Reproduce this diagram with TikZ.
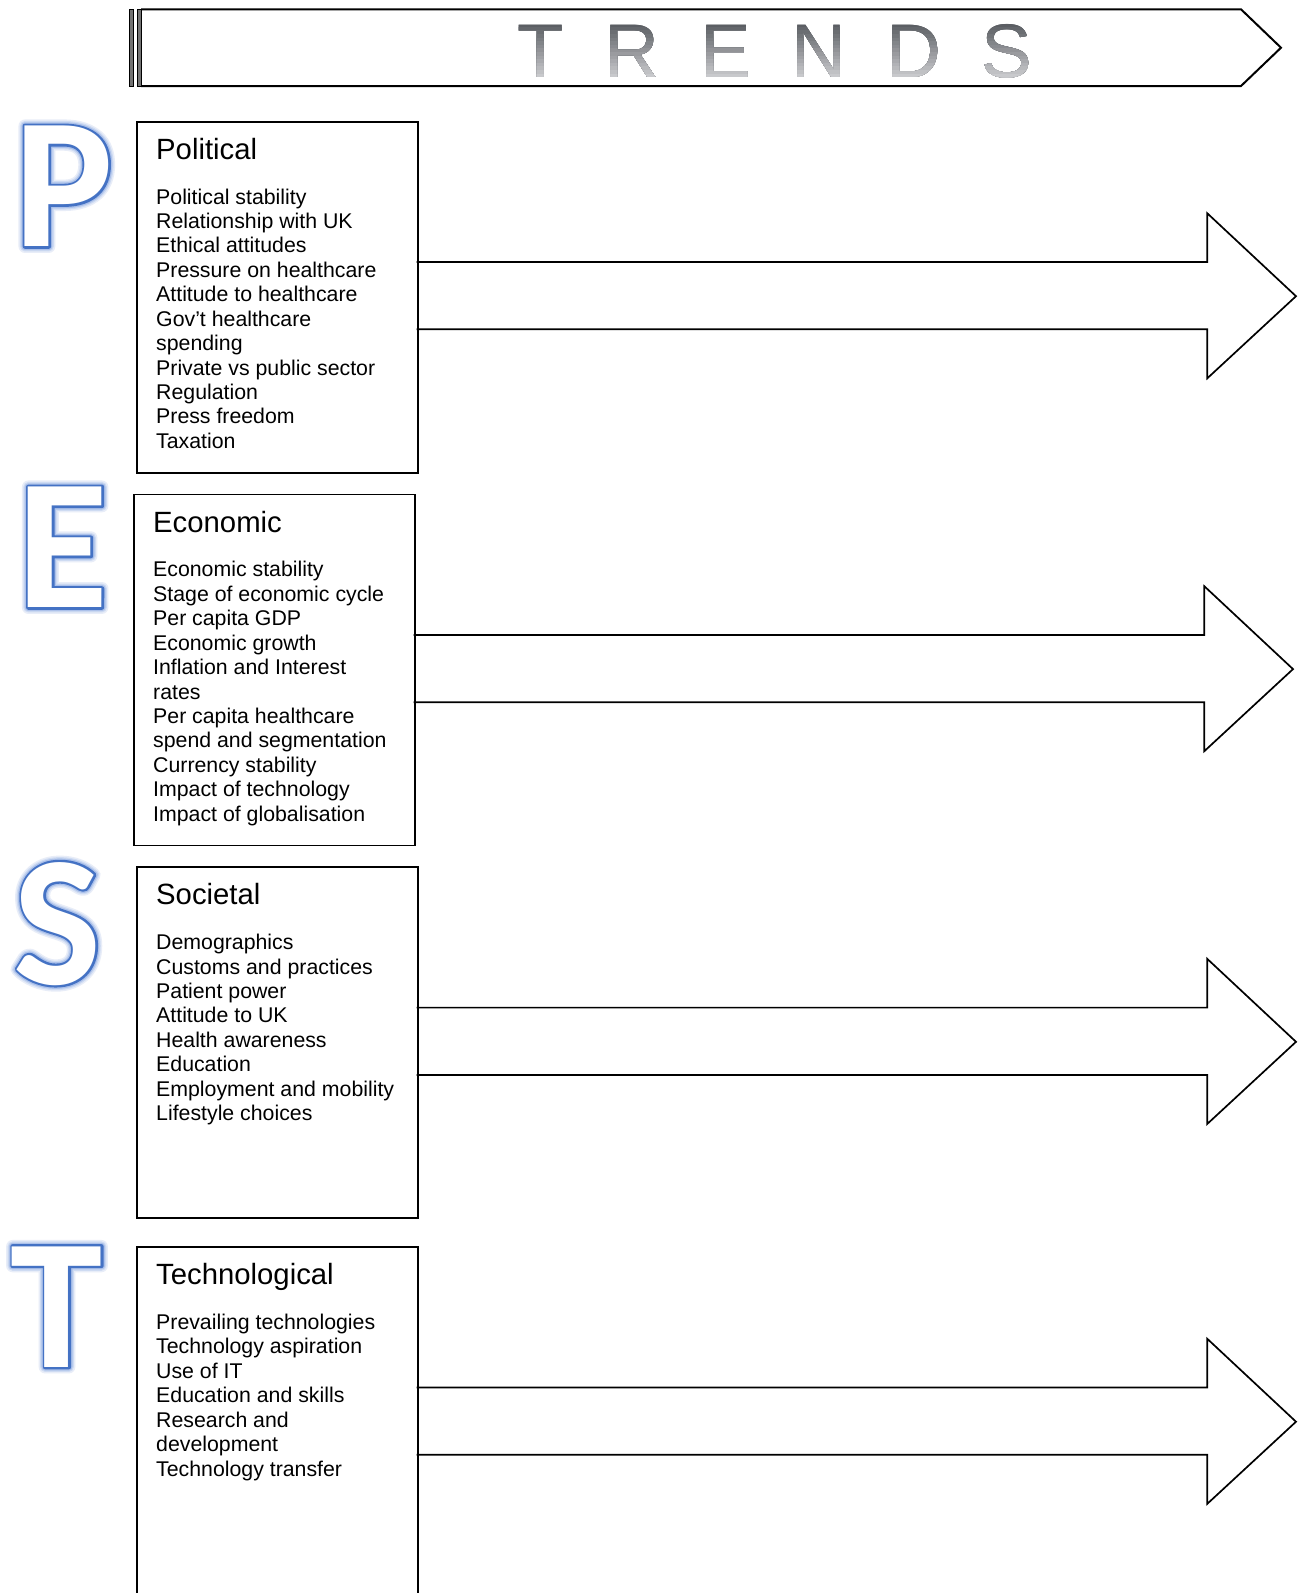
\documentclass[tikz,border=0pt]{standalone}
\usepackage{fontspec}
\setmainfont{Liberation Sans}
\newfontfamily\letterfam{Carlito}
\usetikzlibrary{calc}

\definecolor{pestblue}{RGB}{68,114,196}
\definecolor{glowA}{RGB}{232,237,248}
\definecolor{glowB}{RGB}{206,219,242}
\definecolor{glowC}{RGB}{172,193,234}
\definecolor{trendtop}{RGB}{84,87,92}
\definecolor{trendbot}{RGB}{200,201,204}

\tikzset{
  pestbox/.style={draw=black, line width=1.8pt, minimum width=280.7pt, minimum height=351pt, anchor=north west, inner sep=0pt},
  blockarrow/.style={draw=black, line width=1.7pt, line join=miter},
  bannerline/.style={draw=black, line width=2pt, line join=miter},
  bannerbar/.style={draw=black, fill=black!55, line width=1.1pt},
  titletext/.style={anchor=base west, inner sep=0pt, font=\fontsize{29.3}{34}\selectfont},
  itemtext/.style={anchor=base west, inner sep=0pt, font=\fontsize{21.3}{24.4}\selectfont},
  trendletter/.style={anchor=base, inner sep=0pt, font=\fontsize{76}{80}\selectfont},
  bigletter/.style={anchor=base, inner sep=0pt, line join=round, font=\fontsize{186}{200}\selectfont\letterfam\bfseries\addfontfeature{FakeBold=#1}},
  bigletter/.default=0,
}

% #1 name, #2 left x, #3 top y, #4 title, #5 items
\newcommand\PestBlock[5]{%
  \node[pestbox] (#1) at (#2,#3) {};
  \node[titletext] (#1-title) at (#2+20,#3+38.6) {#4};
  \foreach \itemtxt [count=\i from 0] in {#5} {
    \node[itemtext] (#1-item\i) at (#2+20,#3+83.3+24.43*\i) {\itemtxt};
  }
  \coordinate (#1-a1) at (#2+280.7,#3+141.3);
  \coordinate (#1-a2) at (#2+1071.3,#3+141.3);
  \coordinate (#1-a3) at (#2+1071.3,#3+92.6);
  \coordinate (#1-tip) at (#2+1160,#3+175.5);
  \coordinate (#1-a5) at (#2+1071.3,#3+257.6);
  \coordinate (#1-a6) at (#2+1071.3,#3+208.6);
  \coordinate (#1-a7) at (#2+280.7,#3+208.6);
  \draw[blockarrow] (#1-a1) -- (#1-a2) -- (#1-a3) -- (#1-tip) -- (#1-a5) -- (#1-a6) -- (#1-a7);
}

% #1 name, #2 x, #3 baseline y, #4 letter
\newcommand\BigLetter[4]{%
  \begin{scope}[line join=round]
  \node[bigletter=6.9, text=glowA] (#1-g1) at (#2,#3) {#4};
  \node[bigletter=5.3, text=glowB] (#1-g2) at (#2,#3) {#4};
  \node[bigletter=3.9, text=glowC] (#1-g3) at (#2,#3) {#4};
  \node[bigletter=2.45, text=pestblue] (#1-o) at (#2,#3) {#4};
  \node[bigletter, text=white] (#1) at (#2,#3) {#4};
  \end{scope}
}

\begin{document}
\begin{tikzpicture}[x=1pt,y=-1pt]
\path[fill=white, use as bounding box] (0,0) rectangle (1299,1593);

% TRENDS banner
\node[bannerbar, minimum width=4pt, minimum height=76.7pt, inner sep=0pt, anchor=north west] (barA) at (129,9.3) {};
\node[bannerbar, minimum width=4pt, minimum height=76.7pt, inner sep=0pt, anchor=north west] (barB) at (136.5,9.3) {};
\coordinate (b1) at (141,9.3);
\coordinate (b2) at (1241,9.3);
\coordinate (btip) at (1281,47.7);
\coordinate (b4) at (1241,86);
\coordinate (b5) at (141,86);
\draw[bannerline] (b1) -- (b2) -- (btip) -- (b4) -- (b5);

\foreach \k in {0,...,15} {
  \pgfmathsetmacro\ys{\k==0 ? 0 : 20+\k*3.6}
  \pgfmathtruncatemacro\pct{100*\k/15}
  \colorlet{trendc}{trendbot!\pct!trendtop}
  \begin{scope}
    \clip (480,\ys) rectangle (1100,84);
    \foreach \L/\xx [count=\j] in {T/541,R/632,E/726,N/819,D/914,S/1006.5} {
      \node[trendletter, text=trendc] (tr\k-\j) at (\xx,77) {\L};
    }
  \end{scope}
}

% big letters
\BigLetter{bigP}{64}{246.5}{P}
\BigLetter{bigE}{63}{607.5}{E}
\BigLetter{bigS}{57.5}{984}{S}
\BigLetter{bigT}{57}{1367}{T}

% blocks
\PestBlock{pol}{136}{120.7}{Political}{Political stability,Relationship with UK,Ethical attitudes,Pressure on healthcare,Attitude to healthcare,Gov’t healthcare,spending,Private vs public sector,Regulation,Press freedom,Taxation}
\PestBlock{eco}{133}{493.6}{Economic}{Economic stability,Stage of economic cycle,Per capita GDP,Economic growth,Inflation and Interest,rates,Per capita healthcare,spend and segmentation,Currency stability,Impact of technology,Impact of globalisation}
\PestBlock{soc}{136}{866.3}{Societal}{Demographics,Customs and practices,Patient power,Attitude to UK,Health awareness,Education,Employment and mobility,Lifestyle choices}
\PestBlock{tec}{136}{1246.2}{Technological}{Prevailing technologies,Technology aspiration,Use of IT,Education and skills,Research and,development,Technology transfer}
\end{tikzpicture}
\end{document}
